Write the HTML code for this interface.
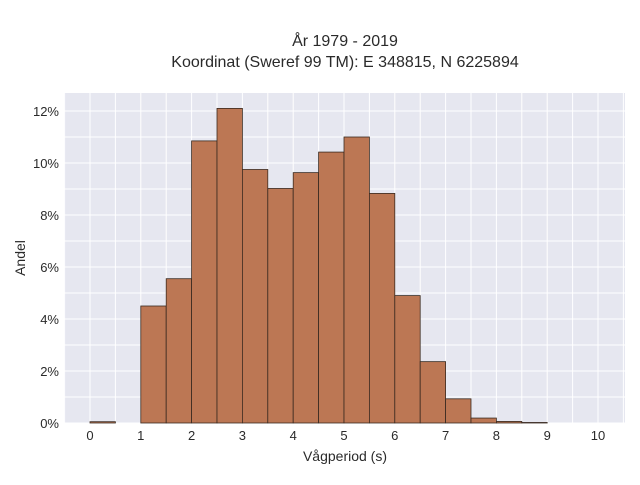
<!DOCTYPE html>
<html><head><meta charset="utf-8"><style>
body{margin:0;background:#fff;font-family:"Liberation Sans",sans-serif;}
</style></head><body>
<svg width="640" height="480" xmlns="http://www.w3.org/2000/svg">
<text x="345" y="46" text-anchor="middle" font-size="16" fill="#2a2a2a">År 1979 - 2019</text>
<text x="345" y="67" text-anchor="middle" font-size="16" fill="#2a2a2a">Koordinat (Sweref 99 TM): E 348815, N 6225894</text>
<rect x="64" y="93" width="561" height="330" fill="#e6e7f0"/>
<g id="grid"></g><g id="bars"></g><g id="ticks"></g>
<text x="345" y="461" text-anchor="middle" font-size="14" fill="#2a2a2a">Vågperiod (s)</text>
<text x="25" y="258" text-anchor="middle" font-size="14" fill="#2a2a2a" transform="rotate(-90 25 258)">Andel</text>
</svg>
<script>
const binStarts=[0,0.5,1,1.5,2,2.5,3,3.5,4,4.5,5,5.5,6,6.5,7,7.5,8,8.5];
const shares=[0.05,0,4.5,5.55,10.85,12.1,9.75,9.02,9.63,10.42,11.0,8.83,4.9,2.36,0.93,0.19,0.06,0.02];
const xTicks=[0,1,2,3,4,5,6,7,8,9,10];
const yTicks=[0,2,4,6,8,10,12];
const binWidth=0.5;
const NS="http://www.w3.org/2000/svg";
const xs=v=>90+v*50.8, ys=v=>423-v*26;
const grid=document.getElementById('grid'),bars=document.getElementById('bars'),ticks=document.getElementById('ticks');
function mk(t,a,p){const e=document.createElementNS(NS,t);for(const k in a)e.setAttribute(k,a[k]);p.appendChild(e);return e;}
for(let v=-0.5;v<=10.5;v+=0.5){const x=xs(v);if(x<64||x>625)continue;
 const l=mk('line',{x1:x,x2:x,y1:93,y2:423,stroke:'#fff','stroke-width':1},grid);
 
 }
for(let v=0;v<=12.5;v+=1){const y=ys(v);if(y<93)continue;
 const l=mk('line',{x1:64,x2:625,y1:y,y2:y,stroke:'#fff','stroke-width':1},grid);
 
 }
binStarts.forEach((b,i)=>{const v=shares[i];if(v<=0)return;
 const r=mk('rect',{x:xs(b),y:ys(v),width:xs(b+binWidth)-xs(b),height:ys(0)-ys(v),fill:'#bc7754',stroke:'#3a2a20','stroke-width':0.8},bars);
 
 });
xTicks.forEach(v=>{const t=mk('text',{x:xs(v),y:440,'text-anchor':'middle','font-size':13,fill:'#2a2a2a'},ticks);t.textContent=v;
 
 });
yTicks.forEach(v=>{const t=mk('text',{x:59,y:ys(v)+5,'text-anchor':'end','font-size':13,fill:'#2a2a2a'},ticks);t.textContent=v+'%';
 
 });
</script>
</body></html>
